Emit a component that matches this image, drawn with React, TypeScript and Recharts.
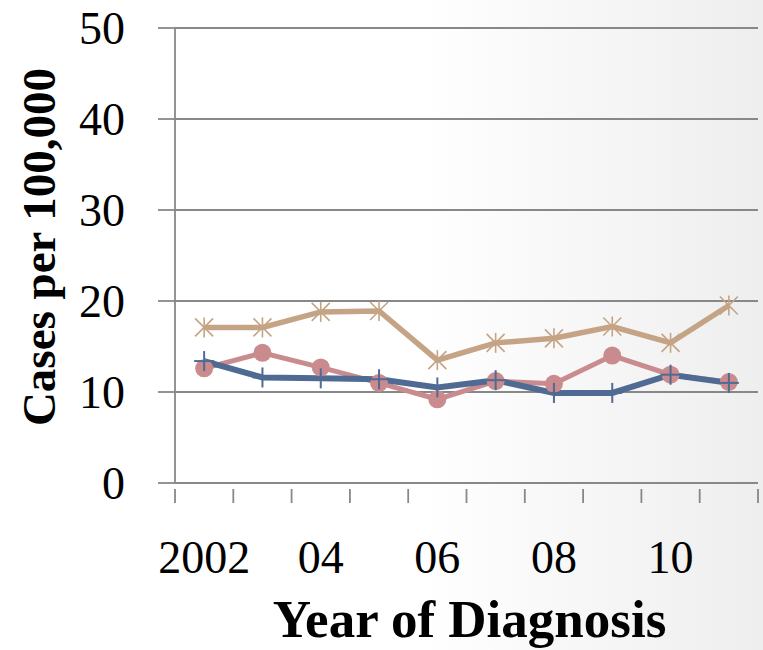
import { CartesianGrid, Label, Line, LineChart, XAxis, YAxis } from "recharts";

// Cases per 100,000 by year of diagnosis, three series (2002–2011)
const years = [2002, 2003, 2004, 2005, 2006, 2007, 2008, 2009, 2010, 2011];
const yearLabels = ["2002", "", "04", "", "06", "", "08", "", "10", ""];
const tanSeries = [17.1, 17.1, 18.8, 18.9, 13.5, 15.4, 15.9, 17.2, 15.4, 19.5];
const pinkSeries = [12.6, 14.3, 12.7, 11.0, 9.2, 11.2, 10.9, 14.0, 11.9, 11.1];
const blueSeries = [13.4, 11.6, 11.5, 11.4, 10.5, 11.3, 9.9, 9.9, 11.9, 11.0];
const yTicks = [0, 10, 20, 30, 40, 50];

const TAN = "#c4a484";
const PINK = "#c98b8d";
const BLUE = "#4f6b93";
const GRID = "#888888";
const FONT = "'Palatino Linotype', 'Book Antiqua', Palatino, 'Liberation Serif', serif";

// each year sits in the middle of its slot: slot i spans [i, i+1]
const data = years.map((year, i) => ({
  year,
  x: i + 0.5,
  tan: tanSeries[i],
  pink: pinkSeries[i],
  blue: blueSeries[i],
}));

// tick marks at slot edges, labels at slot centres
const xTicks = [
  ...years.map((_, i) => i),
  years.length,
  ...yearLabels.map((l, i) => (l ? i + 0.5 : -1)).filter((v) => v >= 0),
].sort((a, b) => a - b);

function XTick(props: any) {
  const { x, y, payload } = props;
  const v = payload.value as number;
  if (Number.isInteger(v)) {
    return <line x1={x} x2={x} y1={y} y2={y + 14} stroke={GRID} strokeWidth={1.8} />;
  }
  return (
    <text x={x} y={y + 84} textAnchor="middle" fontSize={46} fontFamily={FONT} fill="#000">
      {yearLabels[Math.floor(v)]}
    </text>
  );
}

const Asterisk = ({ cx, cy }: { cx: number; cy: number }) => (
  <g stroke={TAN} strokeWidth={1.6}>
    <line x1={cx - 9} y1={cy - 9} x2={cx + 9} y2={cy + 9} />
    <line x1={cx - 9} y1={cy + 9} x2={cx + 9} y2={cy - 9} />
    <line x1={cx} y1={cy - 10} x2={cx} y2={cy + 10} />
  </g>
);

const Plus = ({ cx, cy }: { cx: number; cy: number }) => (
  <g stroke={BLUE} strokeWidth={2}>
    <line x1={cx} y1={cy - 10} x2={cx} y2={cy + 10} />
    <line x1={cx - 10} y1={cy} x2={cx + 10} y2={cy} />
  </g>
);

export default function App() {
  return (
    <div
      style={{
        position: "absolute",
        left: 0,
        top: 0,
        width: 763,
        height: 650,
        background: "linear-gradient(to right, #ffffff 55%, #eeeeee 100%)",
      }}
    >
      <LineChart width={763} height={650} data={data} margin={{ top: 28, right: 5, left: 0, bottom: 0 }}>
        <CartesianGrid vertical={false} stroke={GRID} strokeWidth={1.8} />
        <XAxis
          type="number"
          dataKey="x"
          domain={[0, years.length]}
          ticks={xTicks}
          interval={0}
          height={167}
          tickLine={false}
          tickMargin={0}
          tick={<XTick />}
          axisLine={{ stroke: GRID, strokeWidth: 1.8 }}
        >
          <Label
            content={(p: any) => {
              const vb = p.viewBox;
              return (
                <text x={vb.x + vb.width / 2 + 3} y={637} textAnchor="middle" fontSize={53} fontWeight="bold" fontFamily={FONT} fill="#000">
                  Year of Diagnosis
                </text>
              );
            }}
          />
        </XAxis>
        <YAxis
          type="number"
          domain={[0, 50]}
          ticks={yTicks}
          width={175}
          tickSize={17}
          tickMargin={33}
          tick={{ fontSize: 46, fontFamily: FONT, fill: "#000" }}
          tickLine={{ stroke: GRID, strokeWidth: 1.8 }}
          axisLine={{ stroke: GRID, strokeWidth: 1.8 }}
        >
          <Label
            content={() => (
              <text
                x={55}
                y={247}
                transform="rotate(-90 55 247)"
                textAnchor="middle"
                fontSize={47}
                fontWeight="bold"
                fontFamily={FONT}
                fill="#000"
              >
                Cases per 100,000
              </text>
            )}
          />
        </YAxis>
        <Line
          dataKey="tan"
          stroke={TAN}
          strokeWidth={5.5}
          isAnimationActive={false}
          activeDot={false}
          dot={(p: any) => <Asterisk key={`t${p.index}`} cx={p.cx} cy={p.cy} />}
        />
        <Line
          dataKey="pink"
          stroke={PINK}
          strokeWidth={5}
          isAnimationActive={false}
          activeDot={false}
          dot={(p: any) => <circle key={`p${p.index}`} cx={p.cx} cy={p.cy} r={9} fill={PINK} />}
        />
        <Line
          dataKey="blue"
          stroke={BLUE}
          strokeWidth={6}
          isAnimationActive={false}
          activeDot={false}
          dot={(p: any) => <Plus key={`b${p.index}`} cx={p.cx} cy={p.cy} />}
        />
      </LineChart>
    </div>
  );
}
